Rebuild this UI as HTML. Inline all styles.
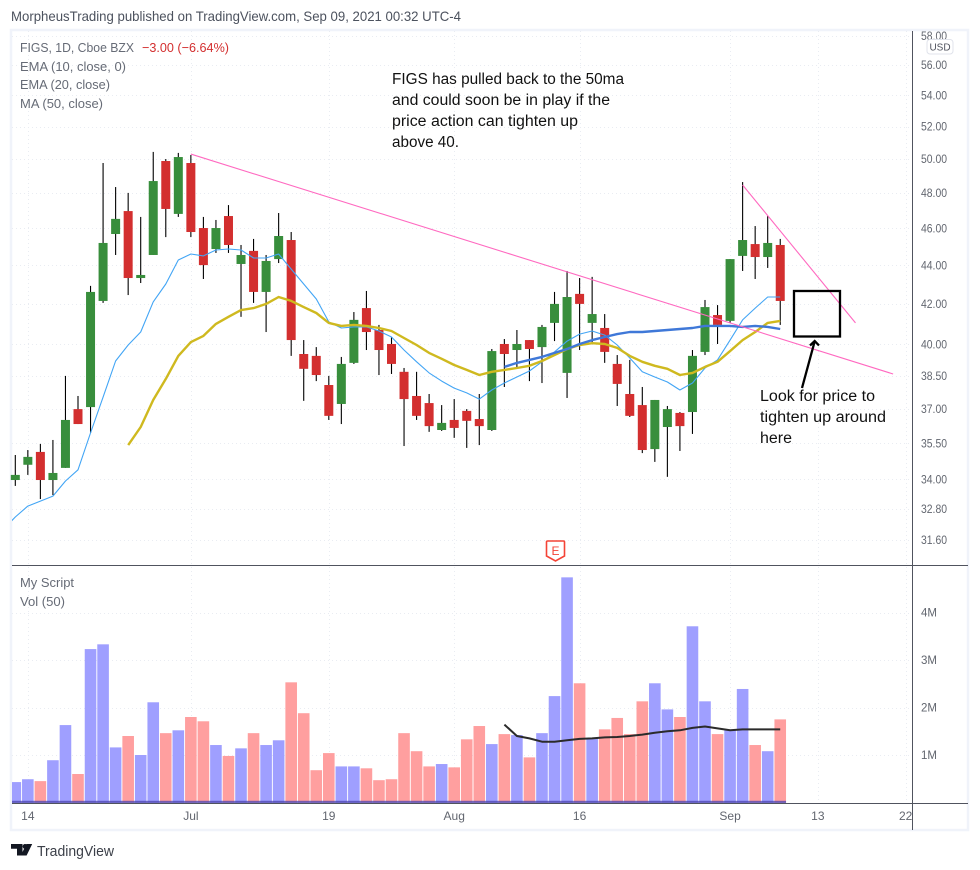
<!DOCTYPE html>
<html lang="en">
<head>
<meta charset="utf-8">
<title>FIGS daily chart</title>
<style>
html,body{margin:0;padding:0;background:#fff;width:980px;height:870px;overflow:hidden}
svg{display:block;font-family:"Liberation Sans",sans-serif}
</style>
</head>
<body>
<svg id="chart" xmlns="http://www.w3.org/2000/svg" width="980" height="870" viewBox="0 0 980 870">
  <defs>
    <clipPath id="plot-clip"><rect x="12" y="31" width="900" height="772"/></clipPath>
  </defs>
  <rect x="0" y="0" width="980" height="870" fill="#ffffff"/>
  <text x="11" y="21" font-size="14" fill="#4c525e" textLength="450" lengthAdjust="spacingAndGlyphs">MorpheusTrading published on TradingView.com, Sep 09, 2021 00:32 UTC-4</text>
  <rect x="11" y="30" width="957" height="800" fill="none" stroke="#f0f3fa" stroke-width="2.5"/>
  <g id="grid"></g>
  <g id="volume" clip-path="url(#plot-clip)"></g>
  <g id="candles"></g>
  <g id="overlays" clip-path="url(#plot-clip)"></g>
  <g id="trend"></g>
  <line x1="12" y1="565.5" x2="968" y2="565.5" stroke="#50535e" stroke-width="1"/>
  <line x1="12" y1="803.5" x2="968" y2="803.5" stroke="#50535e" stroke-width="1"/>
  <line x1="912.5" y1="31" x2="912.5" y2="830" stroke="#50535e" stroke-width="1"/>
  <g id="axes"></g>
  <g>
    <rect x="927" y="39.5" width="26" height="14.5" rx="3" fill="#ffffff" stroke="#e0e3eb"/>
    <text x="940" y="50.5" font-size="10" text-anchor="middle" fill="#50535e">USD</text>
  </g>
  <g font-size="13" fill="#666b76">
    <text x="20" y="52" textLength="114" lengthAdjust="spacingAndGlyphs">FIGS, 1D, Cboe BZX</text>
    <text x="142" y="52" fill="#d32f2f" textLength="87" lengthAdjust="spacingAndGlyphs">−3.00 (−6.64%)</text>
    <text x="20" y="71" textLength="106" lengthAdjust="spacingAndGlyphs">EMA (10, close, 0)</text>
    <text x="20" y="89" textLength="90" lengthAdjust="spacingAndGlyphs">EMA (20, close)</text>
    <text x="20" y="108" textLength="83" lengthAdjust="spacingAndGlyphs">MA (50, close)</text>
    <text x="20" y="587" textLength="54" lengthAdjust="spacingAndGlyphs">My Script</text>
    <text x="20" y="606" textLength="45" lengthAdjust="spacingAndGlyphs">Vol (50)</text>
  </g>
  <g font-size="15.5" fill="#111111">
    <text x="392" y="84" textLength="232" lengthAdjust="spacingAndGlyphs">FIGS has pulled back to the 50ma</text>
    <text x="392" y="105" textLength="218" lengthAdjust="spacingAndGlyphs">and could soon be in play if the</text>
    <text x="392" y="126" textLength="186" lengthAdjust="spacingAndGlyphs">price action can tighten up</text>
    <text x="392" y="147" textLength="67" lengthAdjust="spacingAndGlyphs">above 40.</text>
  </g>
  <g font-size="15.5" fill="#111111">
    <text x="760" y="401" textLength="115" lengthAdjust="spacingAndGlyphs">Look for price to</text>
    <text x="760" y="422" textLength="126" lengthAdjust="spacingAndGlyphs">tighten up around</text>
    <text x="760" y="443" textLength="32" lengthAdjust="spacingAndGlyphs">here</text>
  </g>
  <rect x="794" y="291" width="46" height="45.5" fill="none" stroke="#000000" stroke-width="2.3"/>
  <g fill="none" stroke="#000000" stroke-width="2.3">
    <line x1="802" y1="388" x2="814.5" y2="342"/>
    <polyline points="810,345.5 814.7,341 819,345.5"/>
  </g>
  <g>
    <path d="M547.5 541 H563.5 Q564.5 541 564.5 542 V556 L555.5 561 L546.5 556 V542 Q546.5 541 547.5 541 Z" fill="#ffffff" stroke="#f44336" stroke-width="1.6"/>
    <text x="555.5" y="555" font-size="12" text-anchor="middle" fill="#f44336">E</text>
  </g>
  <g>
    <path d="M11 844 H22.5 V855.5 H17 V848.8 H11 Z M32.2 844 L26.6 855.5 H20.8 L26.4 844 Z" fill="#131722"/>
    <circle cx="25" cy="846.4" r="2.4" fill="#131722"/>
    <text x="37" y="856" font-size="14.5" fill="#3c4049" textLength="77" lengthAdjust="spacingAndGlyphs">TradingView</text>
  </g>
</svg>
<script>
// ---- chart data ----
const opens  = [33.97,34.60,35.14,33.97,34.47,37.00,37.09,42.15,45.69,46.97,43.33,44.55,49.89,46.81,49.77,46.02,44.87,46.69,44.07,44.77,42.61,44.33,45.36,39.54,39.45,38.09,37.23,39.12,41.79,40.70,40.02,38.70,37.59,37.27,36.08,36.52,36.92,36.56,36.08,40.02,39.73,40.21,39.87,41.05,38.65,42.51,41.05,40.80,39.07,37.68,37.18,35.26,36.21,36.83,36.87,39.64,41.44,41.15,44.50,45.14,44.44,45.09];
const highs  = [35.01,35.22,35.48,35.65,38.51,37.59,42.92,49.77,48.35,48.01,46.64,50.44,50.01,50.38,50.25,46.64,46.47,47.31,45.09,45.42,44.55,46.86,45.80,40.21,39.87,38.51,39.40,41.59,42.66,40.95,40.36,38.88,38.70,37.68,37.18,37.45,37.00,37.68,39.78,40.26,40.70,40.21,40.95,42.61,43.70,43.33,43.39,41.49,39.49,39.26,38.00,37.41,37.14,36.87,39.73,42.20,41.94,44.33,48.64,46.13,46.69,45.42];
const lows   = [33.73,34.18,33.20,33.36,34.47,36.34,35.95,42.05,44.55,42.45,43.07,44.55,45.52,46.64,45.52,43.28,44.66,44.66,41.35,42.05,40.60,44.12,39.45,37.37,38.27,36.52,36.34,39.07,39.73,38.55,38.60,35.39,36.52,36.00,36.04,35.74,35.31,35.43,36.04,38.00,38.88,38.27,38.18,40.16,37.50,39.73,40.11,39.12,37.14,36.65,35.09,34.72,34.10,35.18,35.91,39.49,40.02,41.05,43.70,43.28,43.86,40.95];
const closes = [34.18,34.93,33.97,34.26,36.52,36.34,42.61,45.20,46.53,43.33,43.49,48.70,47.09,50.13,45.80,44.01,46.02,45.09,44.55,42.61,44.23,45.58,40.21,38.84,38.55,36.70,39.07,41.20,40.60,39.73,39.07,37.45,36.70,36.25,36.39,36.17,36.48,36.25,39.68,39.54,40.02,39.78,40.85,42.00,42.35,42.00,41.49,39.64,38.14,36.70,35.22,37.41,37.00,36.25,39.45,41.84,40.95,44.33,45.36,44.44,45.20,42.15];
const ema10Start = -1;
const ema10 = [31.98,32.49,32.92,33.12,33.32,33.93,34.39,35.95,37.54,39.21,39.97,40.60,42.10,43.02,44.28,44.60,44.50,44.82,44.87,44.82,44.39,44.39,44.60,43.80,43.02,42.25,41.10,40.80,40.85,40.85,40.65,40.36,39.73,39.17,38.65,38.27,37.95,37.73,37.45,37.86,38.18,38.46,38.74,39.17,39.64,40.16,40.50,40.65,40.45,39.97,39.35,38.70,38.46,38.23,37.86,38.18,38.88,39.26,40.21,41.20,41.79,42.35,42.35];
const ema20Start = 9;
const ema20 = [35.43,36.21,37.41,38.37,39.45,40.11,40.41,41.00,41.35,41.69,41.79,42.00,42.35,42.15,41.84,41.54,41.05,40.90,40.95,40.90,40.80,40.65,40.31,39.97,39.59,39.31,39.02,38.79,38.55,38.70,38.79,38.88,38.98,39.21,39.49,39.78,39.97,40.06,40.02,39.83,39.45,39.17,38.98,38.84,38.55,38.65,38.93,39.17,39.68,40.21,40.60,41.05,41.15];
const ma50Start = 39;
const ma50 = [38.93,39.12,39.26,39.40,39.59,39.78,40.02,40.21,40.36,40.50,40.60,40.60,40.65,40.70,40.75,40.80,40.90,40.90,40.90,40.85,40.90,40.85,40.75];
const volumes = [0.43,0.49,0.45,0.89,1.63,0.60,3.23,3.33,1.16,1.40,1.00,2.11,1.46,1.52,1.80,1.71,1.21,0.98,1.14,1.46,1.21,1.31,2.53,1.88,0.68,1.04,0.76,0.76,0.72,0.47,0.49,1.46,1.08,0.76,0.81,0.74,1.33,1.61,1.23,1.44,1.42,0.95,1.46,2.24,4.74,2.51,1.35,1.54,1.78,1.44,2.13,2.51,1.96,1.80,3.71,2.13,1.44,1.52,2.39,1.21,1.08,1.75];
const volMaStart = 39;
const volMa = [1.64,1.40,1.35,1.28,1.28,1.31,1.34,1.35,1.37,1.38,1.40,1.43,1.47,1.50,1.52,1.57,1.60,1.56,1.52,1.54,1.54,1.54,1.54];
const priceTicks = [58,56,54,52,50,48,46,44,42,40,38.5,37,35.5,34,32.8,31.6];
const volumeTicks = [1,2,3,4];
const timeTickLabels = ['14','Jul','19','Aug','16','Sep','13','22'];
const timeTickBars = [1,14,25,35,45,57,64,71];
const trendMain = [[14,50.31],[70,38.6]];
const trendShort = [[58,48.47],[67,41.05]];

// ---- scales ----
const SVG_NS = 'http://www.w3.org/2000/svg';
function xAt(i){ return 15.3 + 12.54 * i; }
function yPrice(p){ return 36 + 830 * Math.log(58 / p); }
function yVol(v){ return 802.5 - 47.5 * v; }
function make(tag, attrs, parent){
  const n = document.createElementNS(SVG_NS, tag);
  for (const k in attrs) n.setAttribute(k, attrs[k]);
  parent.appendChild(n);
  return n;
}
function pathFrom(values, start, yFn){
  return values.map(function(v, k){ return (k ? 'L' : 'M') + xAt(start + k).toFixed(1) + ' ' + yFn(v).toFixed(1); }).join(' ');
}
const gridG = document.getElementById('grid');
const volG = document.getElementById('volume');
const candleG = document.getElementById('candles');
const overlayG = document.getElementById('overlays');
const trendG = document.getElementById('trend');
const axesG = document.getElementById('axes');
const GRID_STYLE = {stroke:'#e9ecf2', 'stroke-width':1, 'stroke-dasharray':'1 3'};

// ---- grid and axis labels ----
priceTicks.forEach(function(t){
  const y = Math.round(yPrice(t)) + 0.5;
  const line = make('line', Object.assign({x1:12, x2:912, y1:y, y2:y}, GRID_STYLE), gridG);
  
  
  const label = make('text', {x:921, y:yPrice(t) + 4, 'font-size':11.5, fill:'#62666f', textLength:26, lengthAdjust:'spacingAndGlyphs'}, axesG);
  label.textContent = t.toFixed(2);
  
  
});
volumeTicks.forEach(function(t){
  const y = Math.round(yVol(t)) + 0.5;
  const line = make('line', Object.assign({x1:12, x2:912, y1:y, y2:y}, GRID_STYLE), gridG);
  
  
  const label = make('text', {x:921, y:yVol(t) + 4, 'font-size':11.5, fill:'#62666f'}, axesG);
  label.textContent = t + 'M';
  
  
});
timeTickLabels.forEach(function(t, k){
  const x = xAt(timeTickBars[k]);
  const line = make('line', Object.assign({x1:Math.round(x)+0.5, x2:Math.round(x)+0.5, y1:31, y2:803}, GRID_STYLE), gridG);
  
  
  const label = make('text', {x:x, y:820, 'font-size':12, 'text-anchor':'middle', fill:'#62666f'}, axesG);
  label.textContent = t;
  
  
});

// ---- volume ----
volumes.forEach(function(v, i){
  const up = closes[i] >= opens[i];
  const bar = make('rect', {x:xAt(i) - 5.8, y:yVol(v), width:11.6, height:yVol(0) - yVol(v), fill: up ? '#9f9fff' : '#ff9f9f'}, volG);
  
  
});
const script = make('rect', {x:12, y:800.8, width:xAt(61) + 5.8 - 12, height:2.4, fill:'#4a42b0', opacity:0.75}, volG);


const volMaLine = make('path', {d:pathFrom(volMa, volMaStart, yVol), fill:'none', stroke:'#2b2b2b', 'stroke-width':2, 'stroke-linejoin':'round'}, volG);



// ---- candles ----
opens.forEach(function(o, i){
  const c = closes[i];
  const up = c >= o;
  const x = xAt(i);
  const wick = make('line', {x1:x, x2:x, y1:yPrice(highs[i]), y2:yPrice(lows[i]), stroke:'#000000', 'stroke-width':1.1}, candleG);
  
  
  const top = yPrice(Math.max(o, c));
  const bot = yPrice(Math.min(o, c));
  const body = make('rect', {x:x - 4.5, y:top, width:9, height:Math.max(bot - top, 1), fill: up ? '#388e3c' : '#d32f2f'}, candleG);
  
  
});

// ---- moving averages ----
const ema10Line = make('path', {d:pathFrom(ema10, ema10Start, yPrice), fill:'none', stroke:'#42a5f5', 'stroke-width':1.1, 'stroke-linejoin':'round'}, overlayG);


const ema20Line = make('path', {d:pathFrom(ema20, ema20Start, yPrice), fill:'none', stroke:'#cfb91f', 'stroke-width':2.4, 'stroke-linejoin':'round'}, overlayG);


const ma50Line = make('path', {d:pathFrom(ma50, ma50Start, yPrice), fill:'none', stroke:'#3f78d8', 'stroke-width':2.4, 'stroke-linejoin':'round'}, overlayG);



// ---- trendlines ----
const mainLine = make('line', {x1:xAt(trendMain[0][0]), y1:yPrice(trendMain[0][1]), x2:xAt(trendMain[1][0]), y2:yPrice(trendMain[1][1]), stroke:'#ff69c0', 'stroke-width':1.1}, trendG);


const shortLine = make('line', {x1:xAt(trendShort[0][0]), y1:yPrice(trendShort[0][1]), x2:xAt(trendShort[1][0]), y2:yPrice(trendShort[1][1]), stroke:'#ff69c0', 'stroke-width':1.1}, trendG);


</script>
</body>
</html>
